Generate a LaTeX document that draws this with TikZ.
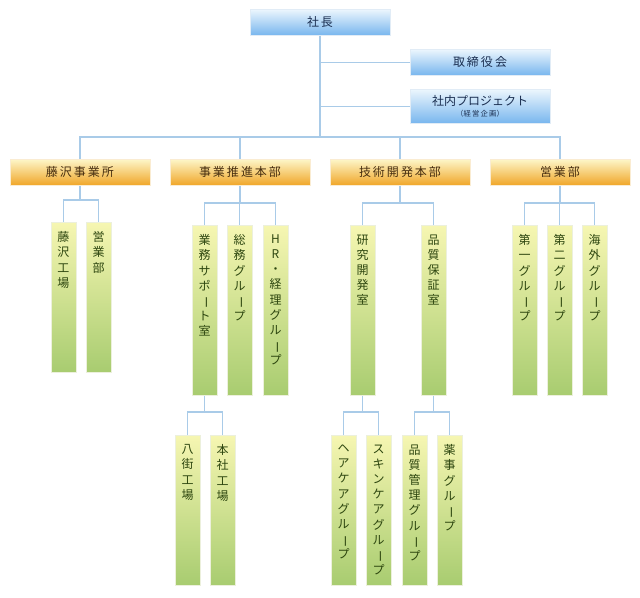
\documentclass[tikz,border=0pt]{standalone}
\usepackage{fontspec}
\setmainfont{Noto Sans CJK JP}
\newcommand{\chou}{\rotatebox[origin=c]{-90}{ー}}
\tikzset{
  conn/.style={draw={rgb,255:red,169;green,203;blue,232},line width=0.9pt},
  topbox/.style={rectangle,anchor=north,minimum width=105pt,minimum height=19.5pt,
    top color={rgb,255:red,236;green,246;blue,253},bottom color={rgb,255:red,120;green,182;blue,238},
    draw={rgb,255:red,225;green,236;blue,246},text={rgb,255:red,26;green,46;blue,80},
    font=\fontsize{9}{10}\selectfont,align=center,inner sep=0pt},
  deptbox/.style={rectangle,anchor=north,minimum width=105pt,minimum height=19.5pt,
    top color={rgb,255:red,253;green,246;blue,200},bottom color={rgb,255:red,240;green,166;blue,40},
    draw={rgb,255:red,250;green,236;blue,210},text={rgb,255:red,70;green,45;blue,15},
    font=\fontsize{9}{10}\selectfont,inner sep=0pt},
  colbox/.style={rectangle,anchor=north,minimum width=18.75pt,minimum height=#1,
    top color={rgb,255:red,246;green,246;blue,178},bottom color={rgb,255:red,168;green,204;blue,112},
    draw={rgb,255:red,236;green,240;blue,220},inner sep=0pt},
  coltext/.style={anchor=north,align=center,inner sep=0pt,text={rgb,255:red,45;green,70;blue,15},
    font=\fontsize{9}{11.4}\selectfont,yshift=-7pt}
}
\begin{document}
\begin{tikzpicture}[x=0.75pt,y=-0.75pt]
\useasboundingbox (0,0) rectangle (640,598);
% top level
\node[topbox] (pres) at (320,9) {社\,長};
\node[topbox] (board) at (480,49) {取\,締\,役\,会};
\node[topbox,minimum height=25.5pt] (proj) at (480,89) {社内プロジェクト\\[-2pt]{\fontsize{5.5}{6}\selectfont （経\,営\,企\,画）}};
% departments
\node[deptbox] (fuji) at (80,159) {藤\,沢\,事\,業\,所};
\node[deptbox] (jigyo) at (240,159) {事\,業\,推\,進\,本\,部};
\node[deptbox] (gijutsu) at (400,159) {技\,術\,開\,発\,本\,部};
\node[deptbox] (eigyo) at (560,159) {営\,業\,部};
% columns
\node[colbox=112.5pt] (fkojo) at (63.5,222) {};
\node[coltext] at (fkojo.north) {藤\\沢\\工\\場};
\node[colbox=112.5pt] (feigyo) at (98.5,222) {};
\node[coltext] at (feigyo.north) {営\\業\\部};
\node[colbox=127.5pt] (gyomu) at (204.5,225) {};
\node[coltext] at (gyomu.north) {業\\務\\サ\\ポ\\\chou\\ト\\室};
\node[colbox=127.5pt] (somu) at (239.5,225) {};
\node[coltext] at (somu.north) {総\\務\\グ\\ル\\\chou\\プ};
\node[colbox=127.5pt] (hr) at (275.5,225) {};
\node[coltext] at (hr.north) {H\\R\\・\\経\\理\\グ\\ル\\\chou\\プ};
\node[colbox=127.5pt] (kenkyu) at (362.5,225) {};
\node[coltext] at (kenkyu.north) {研\\究\\開\\発\\室};
\node[colbox=127.5pt] (hinsho) at (433.5,225) {};
\node[coltext] at (hinsho.north) {品\\質\\保\\証\\室};
\node[colbox=127.5pt] (dai1) at (524.5,225) {};
\node[coltext] at (dai1.north) {第\\一\\グ\\ル\\\chou\\プ};
\node[colbox=127.5pt] (dai2) at (559.5,225) {};
\node[coltext] at (dai2.north) {第\\二\\グ\\ル\\\chou\\プ};
\node[colbox=127.5pt] (kaigai) at (594.5,225) {};
\node[coltext] at (kaigai.north) {海\\外\\グ\\ル\\\chou\\プ};
% lower columns
\node[colbox=112.5pt] (yachi) at (187.5,435) {};
\node[coltext] at (yachi.north) {八\\街\\工\\場};
\node[colbox=112.5pt] (honsha) at (222.5,435) {};
\node[coltext] at (honsha.north) {本\\社\\工\\場};
\node[colbox=112.5pt] (hair) at (343.5,435) {};
\node[coltext] at (hair.north) {ヘ\\ア\\ケ\\ア\\グ\\ル\\\chou\\プ};
\node[colbox=112.5pt] (skin) at (378.5,435) {};
\node[coltext] at (skin.north) {ス\\キ\\ン\\ケ\\ア\\グ\\ル\\\chou\\プ};
\node[colbox=112.5pt] (kanri) at (414.5,435) {};
\node[coltext] at (kanri.north) {品\\質\\管\\理\\グ\\ル\\\chou\\プ};
\node[colbox=112.5pt] (yakuji) at (449.5,435) {};
\node[coltext] at (yakuji.north) {薬\\事\\グ\\ル\\\chou\\プ};
% connectors
\coordinate (busT) at (320,137);
\draw[conn] (pres.south) -- (busT);
\draw[conn] (pres.south |- board.west) -- (board.west);
\draw[conn] (pres.south |- proj.west) -- (proj.west);
\foreach \d in {fuji,jigyo,gijutsu,eigyo} \draw[conn] (\d.north) |- (busT);
\coordinate (bF) at (80,200);
\coordinate (bJ) at (240,203);
\coordinate (bG) at (400,203);
\coordinate (bE) at (560,203);
\coordinate (bY) at (204.5,412);
\coordinate (bK) at (362.5,412);
\coordinate (bH) at (433.5,412);
\draw[conn] (fuji.south) -- (bF);
\draw[conn] (jigyo.south) -- (bJ);
\draw[conn] (gijutsu.south) -- (bG);
\draw[conn] (eigyo.south) -- (bE);
\draw[conn] (gyomu.south) -- (bY);
\draw[conn] (kenkyu.south) -- (bK);
\draw[conn] (hinsho.south) -- (bH);
\foreach \c in {fkojo,feigyo} \draw[conn] (\c.north) |- (bF);
\foreach \c in {gyomu,somu,hr} \draw[conn] (\c.north) |- (bJ);
\foreach \c in {kenkyu,hinsho} \draw[conn] (\c.north) |- (bG);
\foreach \c in {dai1,dai2,kaigai} \draw[conn] (\c.north) |- (bE);
\foreach \c in {yachi,honsha} \draw[conn] (\c.north) |- (bY);
\foreach \c in {hair,skin} \draw[conn] (\c.north) |- (bK);
\foreach \c in {kanri,yakuji} \draw[conn] (\c.north) |- (bH);
\end{tikzpicture}
\end{document}
